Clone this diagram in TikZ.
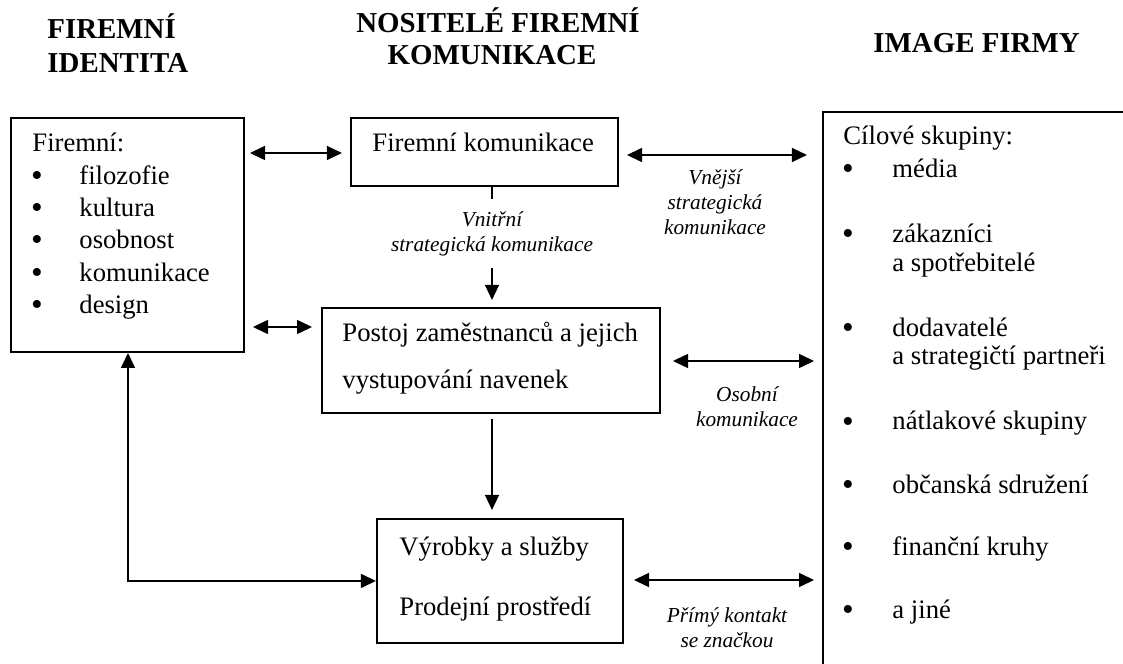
\documentclass[tikz,border=0pt]{standalone}
\usepackage{fontspec}
\setmainfont{Liberation Serif}
\usetikzlibrary{arrows.meta,calc}
\begin{document}
\begin{tikzpicture}[x=0.45pt,y=-0.45pt,
  box/.style={draw,line width=0.85pt,inner sep=0pt,anchor=north west},
  txt/.style={anchor=base west,inner sep=0pt,font=\fontsize{12}{14}\selectfont},
  bul/.style={anchor=base,inner sep=0pt,font=\fontsize{15}{17}\selectfont},
  hdr/.style={anchor=base west,inner sep=0pt,font=\fontsize{13}{15}\bfseries\selectfont},
  hdrc/.style={anchor=base,inner sep=0pt,font=\fontsize{13}{15}\bfseries\selectfont},
  lbl/.style={align=center,inner sep=0pt,font=\fontsize{9.6}{11.25}\itshape\selectfont},
  tip/.tip={Triangle[length=6.8pt,width=6.2pt]},
  arr/.style={line width=1pt,-tip},
  darr/.style={line width=1pt,tip-tip},
]
\useasboundingbox (0,0) rectangle (1123,664);

% headers
\node[hdr] (h1a) at (47,39) {FIREMNÍ};
\node[hdr] (h1b) at (47,73) {IDENTITA};
\node[hdrc] (h2a) at (498,33) {NOSITELÉ FIREMNÍ};
\node[hdrc] (h2b) at (492,65) {KOMUNIKACE};
\node[hdr] (h3) at (873,53) {IMAGE FIRMY};

% boxes
\node[box,minimum width=233*0.45pt,minimum height=234*0.45pt] (id) at (10,117) {};
\node[box,minimum width=267*0.45pt,minimum height=68*0.45pt] (fk) at (350,117) {};
\node[box,minimum width=338*0.45pt,minimum height=105*0.45pt] (postoj) at (321,307) {};
\node[box,minimum width=246*0.45pt,minimum height=124*0.45pt] (vyr) at (376,518) {};
\coordinate (rb) at (823,112);
\draw[line width=0.85pt] (1123,112) -- (rb) -- (823,664);

% left box text
\node[txt] (idt) at (32,152) {Firemní:};
\node[bul] (b1) at (37,187) {•}; \node[txt] (i1) at (79,185) {filozofie};
\node[bul] (b2) at (37,219) {•}; \node[txt] (i2) at (79,217) {kultura};
\node[bul] (b3) at (37,251) {•}; \node[txt] (i3) at (79,249) {osobnost};
\node[bul] (b4) at (37,284) {•}; \node[txt] (i4) at (79,282) {komunikace};
\node[bul] (b5) at (37,316) {•}; \node[txt] (i5) at (79,314) {design};

% middle texts
\node[txt] (fkt) at (372,152) {Firemní komunikace};
\node[txt] (pt1) at (342,342) {Postoj zaměstnanců a jejich};
\node[txt] (pt2) at (342,388) {vystupování navenek};
\node[txt] (vt1) at (399,555) {Výrobky a služby};
\node[txt] (vt2) at (399,615) {Prodejní prostředí};

% right box text
\node[txt] (rt) at (843,145) {Cílové skupiny:};
\node[bul] (r1b) at (848,180) {•}; \node[txt] (r1) at (892,178) {média};
\node[bul] (r2b) at (848,245) {•}; \node[txt] (r2) at (892,243) {zákazníci};
\node[txt] (r2c) at (892,272) {a spotřebitelé};
\node[bul] (r3b) at (848,339) {•}; \node[txt] (r3) at (892,337) {dodavatelé};
\node[txt] (r3c) at (892,365) {a strategičtí partneři};
\node[bul] (r4b) at (848,432) {•}; \node[txt] (r4) at (892,430) {nátlakové skupiny};
\node[bul] (r5b) at (848,495) {•}; \node[txt] (r5) at (892,493) {občanská sdružení};
\node[bul] (r6b) at (848,557) {•}; \node[txt] (r6) at (892,555) {finanční kruhy};
\node[bul] (r7b) at (848,620) {•}; \node[txt] (r7) at (892,618) {a jiné};

% labels
\node[lbl] (lvn) at (715,202) {Vnější\\strategická\\komunikace};
\node[lbl] (los) at (747,407) {Osobní\\komunikace};
\node[lbl] (lpr) at (727,628) {Přímý kontakt\\se značkou};

% connectors
\draw[darr,shorten <=2.25pt,shorten >=3.6pt] (id.east |- 0,153) -- (fk.west |- 0,153);
\draw[darr,shorten <=3.6pt,shorten >=4pt] (id.east |- 0,327) -- (postoj.west |- 0,327);
\draw[darr,shorten <=3.6pt,shorten >=7.2pt] (fk.east |- 0,155) -- (rb |- 0,155);
\draw[darr,shorten <=5.4pt,shorten >=4pt] (postoj.east |- 0,361) -- (rb |- 0,361);
\draw[darr,shorten <=4.5pt,shorten >=4pt] (vyr.east |- 0,580) -- (rb |- 0,580);
\draw[arr,shorten >=3.15pt] (fk.south -| 492,0) -- node[lbl,pos=0.39,fill=white,inner ysep=5.5pt,inner xsep=2pt] (lvi) {Vnitřní\\strategická komunikace} (postoj.north -| 492,0);
\draw[arr,shorten <=2.25pt,shorten >=3.6pt] (postoj.south -| 492,0) -- (vyr.north -| 492,0);
\draw[darr] (id.south -| 128,0) |- (vyr.west);
\end{tikzpicture}
\end{document}
